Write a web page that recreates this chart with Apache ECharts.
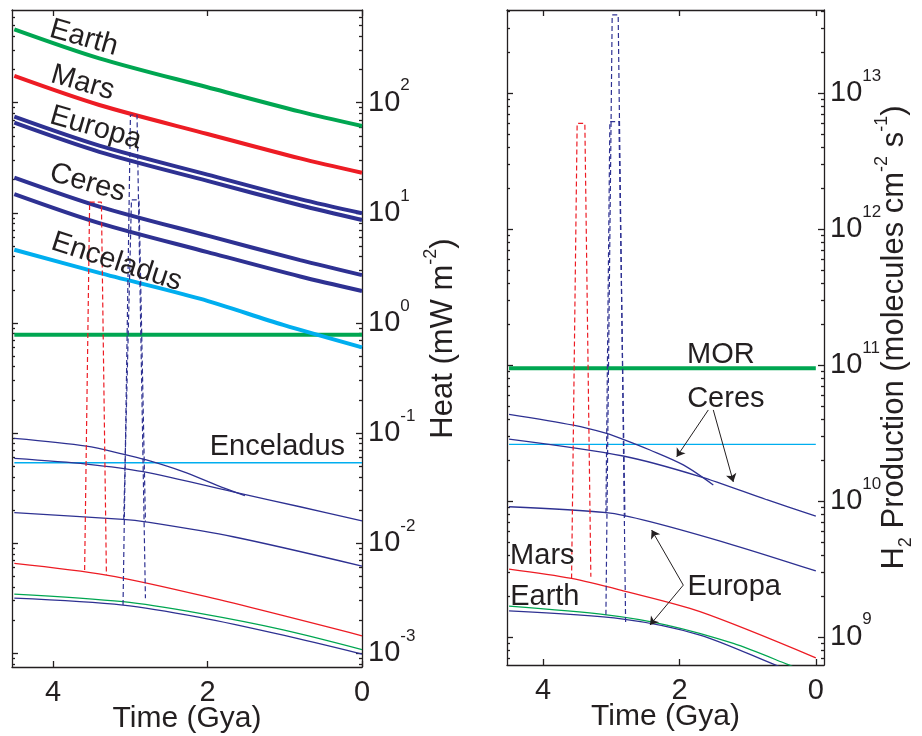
<!DOCTYPE html>
<html>
<head>
<meta charset="utf-8">
<script src="https://cdn.jsdelivr.net/npm/echarts@6/dist/echarts.min.js"></script>
<style>
  html, body { margin: 0; background: #fff; }
  #chart { width: 922px; height: 736px; }
</style>
</head>
<body>
<div id="chart"></div>
<script>
// ---- data: [time (Gya), value] ----
// left panel, heat flow (mW m^-2), thick lines
const heatEarth     = [[4.5, 464], [3.4, 253], [2.0, 138], [0.8, 82.9], [0, 61.4]];
const heatMars      = [[4.5, 175], [3.4, 95.3], [2.0, 52], [0.8, 31.2], [0, 23.1]];
const heatEuropaA   = [[4.5, 74.6], [3.4, 40.7], [2.0, 22.2], [0.8, 13.3], [0, 9.9]];
const heatEuropaB   = [[4.5, 65.8], [3.4, 35.8], [2.0, 19.5], [0.8, 11.7], [0, 8.6]];
const heatCeresA    = [[4.5, 20.9], [3.4, 11.4], [2.0, 6.2], [0.8, 3.72], [0, 2.72]];
const heatCeresB    = [[4.5, 14.8], [3.4, 8.07], [2.0, 4.40], [0.8, 2.64], [0, 1.95]];
const heatEnceladus = [[4.5, 4.62], [3.4, 2.85], [2.1, 1.66], [1.02, 0.96], [0, 0.60]];
const heatMOR       = [[4.5, 0.78], [0, 0.78]];

// left panel, thin lines
const thinCeresA    = [[4.5, 0.0895], [3.567, 0.0762], [3.093, 0.0644], [2.79, 0.0569], [2.316, 0.0446], [1.883, 0.0337], [1.516, 0.0270]];
const thinCeresB    = [[4.5, 0.0589], [3.567, 0.0523], [2.834, 0.0446], [1.581, 0.0283], [0.803, 0.0214], [0, 0.0159]];
const thinEnceladus = [[4.5, 0.0537], [0, 0.0537]];
const thinEuropaA   = [[4.5, 0.0189], [3.093, 0.01644], [2.803, 0.01563], [1.668, 0.01143], [0, 0.00619]];
const thinMars      = [[4.5, 6.56e-3], [3.308, 5.13e-3], [2.012, 3.26e-3], [0, 1.44e-3]];
const thinEarth     = [[4.5, 3.45e-3], [3.093, 2.94e-3], [2.099, 2.30e-3], [1.02, 1.63e-3], [0, 1.08e-3]];
const thinEuropaB   = [[4.5, 3.16e-3], [3.093, 2.74e-3], [2.099, 2.12e-3], [1.02, 1.46e-3], [0, 9.84e-4]];

// left panel, dashed brackets
const heatDashMars    = [[3.590, 5.7e-3], [3.525, 12.5], [3.373, 12.5], [3.308, 5.13e-3]];
const heatDashEuropaO = [[3.093, 2.74e-3], [2.997, 77.3], [2.912, 77.3], [2.803, 3.16e-3]];
const heatDashEuropaI = [[3.084, 0.0164], [2.984, 13.1], [2.886, 13.1], [2.803, 0.0156]];

// right panel, H2 production (molecules cm^-2 s^-1)
const h2MOR       = [[4.5, 9.46e10], [0, 9.46e10]];
const h2Enceladus = [[4.5, 2.61e10], [0, 2.61e10]];
const h2CeresA    = [[4.5, 4.34e10], [3.559, 3.61e10], [3.069, 3.14e10], [2.826, 2.84e10], [2.433, 2.37e10], [1.944, 1.84e10], [1.504, 1.31e10]];
const h2CeresB    = [[4.5, 2.85e10], [2.826, 2.14e10], [1.699, 1.51e10], [0.72, 1.02e10], [0, 7.74e9]];
const h2EuropaA   = [[4.5, 9.06e9], [3.069, 8.19e9], [2.433, 7.03e9], [1.21, 4.73e9], [0, 3.05e9]];
const h2Mars      = [[4.5, 3.15e9], [3.583, 2.69e9], [2.826, 2.18e9], [1.699, 1.53e9], [0, 7.0e8]];
const h2Earth     = [[4.5, 1.68e9], [3.069, 1.45e9], [2.188, 1.22e9], [1.21, 8.93e8], [0.426, 6.29e8], [0, 5.1e8]];
const h2EuropaB   = [[4.5, 1.55e9], [2.826, 1.35e9], [1.699, 1.03e9], [0.623, 6.29e8], [0, 4.7e8]];

const h2DashMars    = [[3.583, 2.69e9], [3.501, 6.0e12], [3.388, 6.0e12], [3.30, 2.77e9]];
const h2DashEuropaO = [[3.079, 1.45e9], [2.987, 3.77e13], [2.899, 3.77e13], [2.79, 1.26e9]];
const h2DashEuropaI = [[3.079, 8.1e9], [3.021, 6.18e12], [2.888, 6.18e12], [2.80, 7.6e9]];

// ticks
const timeTicks = [0, 2, 4];
const heatTicks = [1e-3, 1e-2, 1e-1, 1, 10, 100];
const h2Ticks   = [1e9, 1e10, 1e11, 1e12, 1e13];

// ---- style ----
const FONT = '"Liberation Sans", Arial, Helvetica, sans-serif';
const INK = '#231f20';
const COLORS = { green: '#00a651', red: '#ed1c24', navy: '#2e3192', cyan: '#00aeef' };
const AXIS_LINE = { color: INK, width: 1.3 };

function minorTicks(majors, lo, hi) {
  const out = [];
  const decades = [majors[0] / 10].concat(majors);
  decades.forEach(d => {
    for (let k = 2; k <= 9; k++) {
      const v = k * d;
      if (v >= lo && v <= hi) out.push(v);
    }
  });
  return out;
}

const supRich = {
  base: { fontSize: 29, fontFamily: FONT, color: INK, padding: [11, 0, 0, 0], verticalAlign: 'bottom' },
  sup: { fontSize: 17, fontFamily: FONT, color: INK, verticalAlign: 'top', lineHeight: 18 },
};

function powLabel(v) {
  const e = Math.round(Math.log10(v));
  return '{base|10}{sup|' + e + '}';
}

function xAxes(grid, min, max) {
  const common = {
    gridIndex: grid, type: 'value', min, max, inverse: true,
    splitLine: { show: false },
    axisLine: { onZero: false, lineStyle: AXIS_LINE },
    axisTick: { inside: true, length: 6, customValues: timeTicks, lineStyle: AXIS_LINE },
  };
  return [
    Object.assign({}, common, {
      position: 'bottom',
      axisLabel: { customValues: timeTicks, fontSize: 29, fontFamily: FONT, color: INK, margin: 11 },
      name: 'Time (Gya)', nameLocation: 'middle', nameGap: 37, nameMoveOverlap: false,
      nameTextStyle: { fontSize: 30, fontFamily: FONT, color: INK },
    }),
    Object.assign({}, common, { position: 'top', axisLabel: { show: false } }),
  ];
}

function yAxes(grid, min, max, majors, name, nameGap, nameRich) {
  const common = {
    gridIndex: grid, type: 'log', logBase: 10, min, max,
    splitLine: { show: false },
    axisLine: { onZero: false, lineStyle: AXIS_LINE },
  };
  const minors = minorTicks(majors, min, max);
  const minorTick = { inside: true, length: 3, customValues: minors, lineStyle: AXIS_LINE };
  return [
    Object.assign({}, common, {
      position: 'right',
      axisTick: { inside: true, length: 6, customValues: majors, lineStyle: AXIS_LINE },
      axisLabel: {
        customValues: majors, formatter: powLabel, rich: supRich,
        margin: 6, padding: [0, 0, 11, 0],
      },
      name, nameLocation: 'middle', nameGap, nameMoveOverlap: false,
      nameTextStyle: { fontSize: 31, fontFamily: FONT, color: INK, lineHeight: 42, rich: nameRich },
    }),
    Object.assign({}, common, {
      position: 'left',
      axisTick: { inside: true, length: 6, customValues: majors, lineStyle: AXIS_LINE },
      axisLabel: { show: false },
    }),
    Object.assign({}, common, {
      position: 'right', axisLine: { show: false, onZero: false },
      axisTick: minorTick, axisLabel: { show: false },
    }),
    Object.assign({}, common, {
      position: 'left', axisLine: { show: false, onZero: false },
      axisTick: minorTick, axisLabel: { show: false },
    }),
  ];
}

const nameRich = {
  sup: { fontSize: 18, fontFamily: FONT, color: INK, verticalAlign: 'top', lineHeight: 19 },
  sub: { fontSize: 18, fontFamily: FONT, color: INK, verticalAlign: 'bottom', lineHeight: 19 },
};

function curve(data, color, width, panel, extra) {
  return Object.assign({
    type: 'line', data,
    xAxisIndex: panel === 0 ? 0 : 2,
    yAxisIndex: panel === 0 ? 0 : 4,
    showSymbol: false, symbol: 'none', smooth: 0.3, silent: true,
    lineStyle: { color, width },
  }, extra || {});
}

function dashed(data, color, panel) {
  return curve(data, color, 1.2, panel, {
    smooth: false,
    lineStyle: { color, width: 1.2, type: [5, 3] },
  });
}

function tag(text, coord, rotate) {
  return {
    coord, symbol: 'circle', symbolSize: 1,
    itemStyle: { color: 'rgba(0,0,0,0)' },
    label: {
      show: true, formatter: text, position: 'inside', rotate: rotate || 0,
      fontSize: 29, fontFamily: FONT, color: INK,
    },
  };
}

function tags(list) {
  return { silent: true, animation: false, data: list };
}

function arrow(from, to) {
  return [{ coord: from }, { coord: to }];
}

const chart = echarts.init(document.getElementById('chart'));

chart.setOption({
  backgroundColor: '#fff',
  animation: false,
  grid: [
    { left: 12, right: 560, top: 10, bottom: 69, outerBoundsMode: 'none' },
    { left: 507, right: 98, top: 10, bottom: 71, outerBoundsMode: 'none' },
  ],
  xAxis: [].concat(xAxes(0, 0, 4.53), xAxes(1, -0.12, 4.53)),
  yAxis: [].concat(
    yAxes(0, 7.5e-4, 695, heatTicks, 'Heat (mW m{sup|-2})', 60, nameRich),
    yAxes(1, 6.2e8, 4.1e13, h2Ticks, 'H{sub|2} Production (molecules cm{sup|-2} s{sup|-1})', 49, nameRich)
  ),
  series: [
    // left: thick heat curves
    curve(heatMOR, COLORS.green, 4, 0),
    curve(heatEarth, COLORS.green, 4, 0, {
      markPoint: tags([tag('Earth', [3.60, 387], -16)]),
    }),
    curve(heatMars, COLORS.red, 4, 0, {
      markPoint: tags([tag('Mars', [3.615, 151], -16)]),
    }),
    curve(heatEuropaA, COLORS.navy, 4, 0, {
      markPoint: tags([tag('Europa', [3.447, 58.9], -16)]),
    }),
    curve(heatEuropaB, COLORS.navy, 4, 0),
    curve(heatCeresA, COLORS.navy, 4, 0, {
      markPoint: tags([tag('Ceres', [3.551, 18.7], -16)]),
    }),
    curve(heatCeresB, COLORS.navy, 4, 0),
    curve(heatEnceladus, COLORS.cyan, 4, 0, {
      markPoint: tags([tag('Enceladus', [3.175, 3.57], -18)]),
    }),
    // left: thin curves
    curve(thinEnceladus, COLORS.cyan, 1.3, 0, {
      markPoint: tags([tag('Enceladus', [1.095, 0.0746], 0)]),
    }),
    curve(thinCeresA, COLORS.navy, 1.3, 0),
    curve(thinCeresB, COLORS.navy, 1.3, 0),
    curve(thinEuropaA, COLORS.navy, 1.3, 0),
    curve(thinMars, COLORS.red, 1.3, 0),
    curve(thinEarth, COLORS.green, 1.3, 0),
    curve(thinEuropaB, COLORS.navy, 1.3, 0),
    dashed(heatDashMars, COLORS.red, 0),
    dashed(heatDashEuropaO, COLORS.navy, 0),
    dashed(heatDashEuropaI, COLORS.navy, 0),

    // right: H2 production
    curve(h2MOR, COLORS.green, 4, 1, {
      markPoint: tags([tag('MOR', [1.393, 1.19e11], 0)]),
    }),
    curve(h2Enceladus, COLORS.cyan, 1.3, 1),
    curve(h2CeresA, COLORS.navy, 1.3, 1),
    curve(h2CeresB, COLORS.navy, 1.3, 1, {
      markPoint: tags([tag('Ceres', [1.320, 5.62e10], 0)]),
      markLine: {
        silent: true, animation: false,
        symbol: ['none', 'arrow'], symbolSize: 8,
        lineStyle: { color: INK, width: 1, type: 'solid' },
        label: { show: false },
        data: [
          arrow([1.577, 4.67e10], [2.041, 2.11e10]),
          arrow([1.504, 4.67e10], [1.210, 1.38e10]),
          arrow([1.944, 2.40e9], [2.408, 6.10e9]),
          arrow([1.944, 2.40e9], [2.433, 1.22e9]),
        ],
      },
    }),
    curve(h2EuropaA, COLORS.navy, 1.3, 1, {
      markPoint: tags([tag('Europa', [1.197, 2.32e9], 0)]),
    }),
    curve(h2Mars, COLORS.red, 1.3, 1, {
      markPoint: tags([tag('Mars', [4.012, 3.93e9], 0)]),
    }),
    curve(h2Earth, COLORS.green, 1.3, 1, {
      markPoint: tags([tag('Earth', [3.975, 1.96e9], 0)]),
    }),
    curve(h2EuropaB, COLORS.navy, 1.3, 1),
    dashed(h2DashMars, COLORS.red, 1),
    dashed(h2DashEuropaO, COLORS.navy, 1),
    dashed(h2DashEuropaI, COLORS.navy, 1),
  ],
});
</script>
</body>
</html>
